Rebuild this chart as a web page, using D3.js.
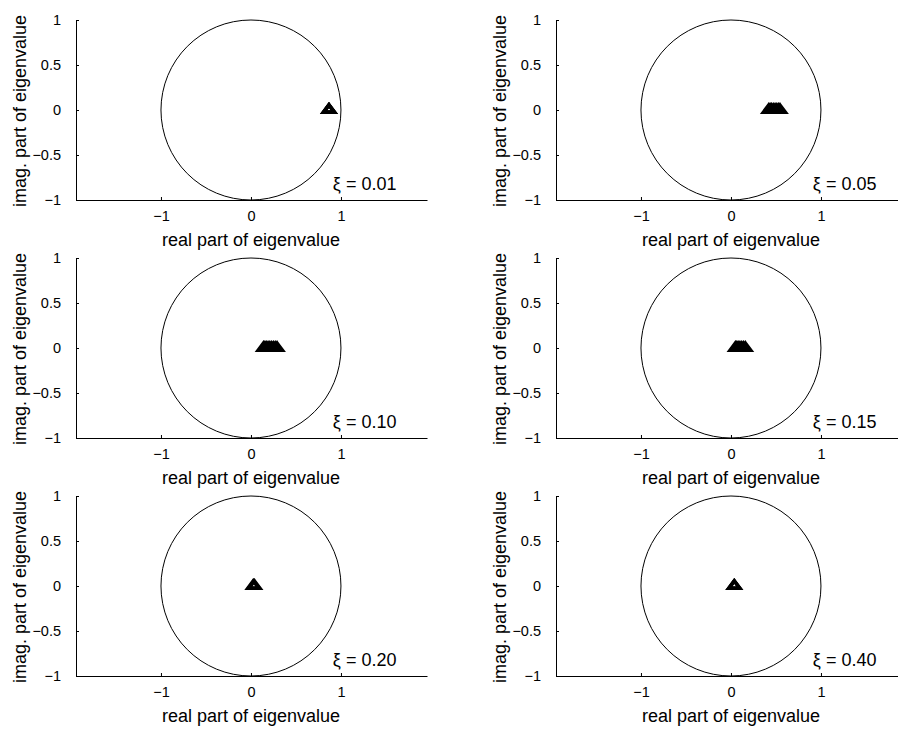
<!DOCTYPE html>
<html>
<head>
<meta charset="utf-8">
<script src="https://cdn.jsdelivr.net/npm/d3@7"></script>
<style>
  body { margin: 0; background: #fff; }
  svg { display: block; }
  text { font-family: "Liberation Sans", Arial, Helvetica, sans-serif; fill: #000; }
</style>
</head>
<body>
<div id="chart"></div>
<script>
// damping ratio for each panel
const xiLabels = ["0.01", "0.05", "0.10", "0.15", "0.20", "0.40"];

// real parts of the eigenvalues (imag. parts are all zero)
const eig01 = [0.864, 0.866, 0.868, 0.87];
const eig05 = [0.42, 0.435, 0.45, 0.47, 0.49, 0.51, 0.53, 0.545];
const eig10 = [0.14, 0.155, 0.17, 0.19, 0.21, 0.23, 0.25, 0.27, 0.29];
const eig15 = [0.05, 0.065, 0.08, 0.10, 0.12, 0.14, 0.16];
const eig20 = [0.025, 0.032, 0.04];
const eig40 = [0.035, 0.037, 0.04];

const xTicks = [-1, 0, 1];
const yTicks = [-1, -0.5, 0, 0.5, 1];

const panels = [eig01, eig05, eig10, eig15, eig20, eig40];

const width = 898, height = 732;
const plotW = 351, plotH = 180;
const colX = [76, 556];
const rowY = [20, 258, 496];

const svg = d3.select("#chart").append("svg")
    .attr("width", width)
    .attr("height", height);

const fmt = d3.format("");

panels.forEach((vals, i) => {
    const left = colX[i % 2];
    const top = rowY[Math.floor(i / 2)];

    const x = d3.scaleLinear().domain([-1.944, 1.956]).range([0, plotW]);
    const y = d3.scaleLinear().domain([-1, 1]).range([plotH, 0]);

    const g = svg.append("g").attr("transform", `translate(${left},${top})`);

    // unit circle
    g.append("circle")
        .attr("cx", x(0))
        .attr("cy", y(0))
        .attr("r", x(1) - x(0))
        .attr("fill", "none")
        .attr("stroke", "#000")
        .attr("stroke-width", 1);

    // eigenvalue markers (open triangles, heavy edge)
    const tri = (cx, cy) => `M${cx},${cy - 5.1}L${cx + 5.5},${cy + 2.25}L${cx - 5.5},${cy + 2.25}Z`;
    g.selectAll(".eig")
        .data(vals)
        .enter().append("path")
        .attr("class", "eig")
        .attr("d", d => tri(x(d), y(0)))
        .attr("fill", "none")
        .attr("stroke", "#000")
        .attr("stroke-width", 3.4)
        .attr("stroke-linejoin", "miter")
        .attr("stroke-miterlimit", 10);

    // axes
    const xAxis = d3.axisBottom(x).tickValues(xTicks).tickFormat(fmt)
        .tickSize(-3).tickSizeOuter(0).tickPadding(11);
    const yAxis = d3.axisLeft(y).tickValues(yTicks).tickFormat(fmt)
        .tickSize(-3).tickSizeOuter(0).tickPadding(15);

    const gx = g.append("g").attr("transform", `translate(0,${plotH})`).call(xAxis);
    const gy = g.append("g").call(yAxis);
    [gx, gy].forEach(a => {
        a.select(".domain").attr("stroke", "#000");
        a.selectAll("line").attr("stroke", "#000");
        a.selectAll("text").style("font-size", "14.5px")
            .style("font-family", "'Liberation Sans', Arial, sans-serif");
    });

    g.append("text")
        .attr("x", x(0))
        .attr("y", plotH + 46)
        .attr("text-anchor", "middle")
        .style("font-size", "18px")
        .text("real part of eigenvalue");

    g.append("text")
        .attr("transform", `translate(-50,${plotH / 2 + 1}) rotate(-90)`)
        .attr("text-anchor", "middle")
        .style("font-size", "18px")
        .text("imag. part of eigenvalue");

    g.append("text")
        .attr("x", x(0.91))
        .attr("y", y(-0.82))
        .attr("dy", "0.35em")
        .style("font-size", "18px")
        .text(`ξ = ${xiLabels[i]}`);
});
</script>
</body>
</html>
